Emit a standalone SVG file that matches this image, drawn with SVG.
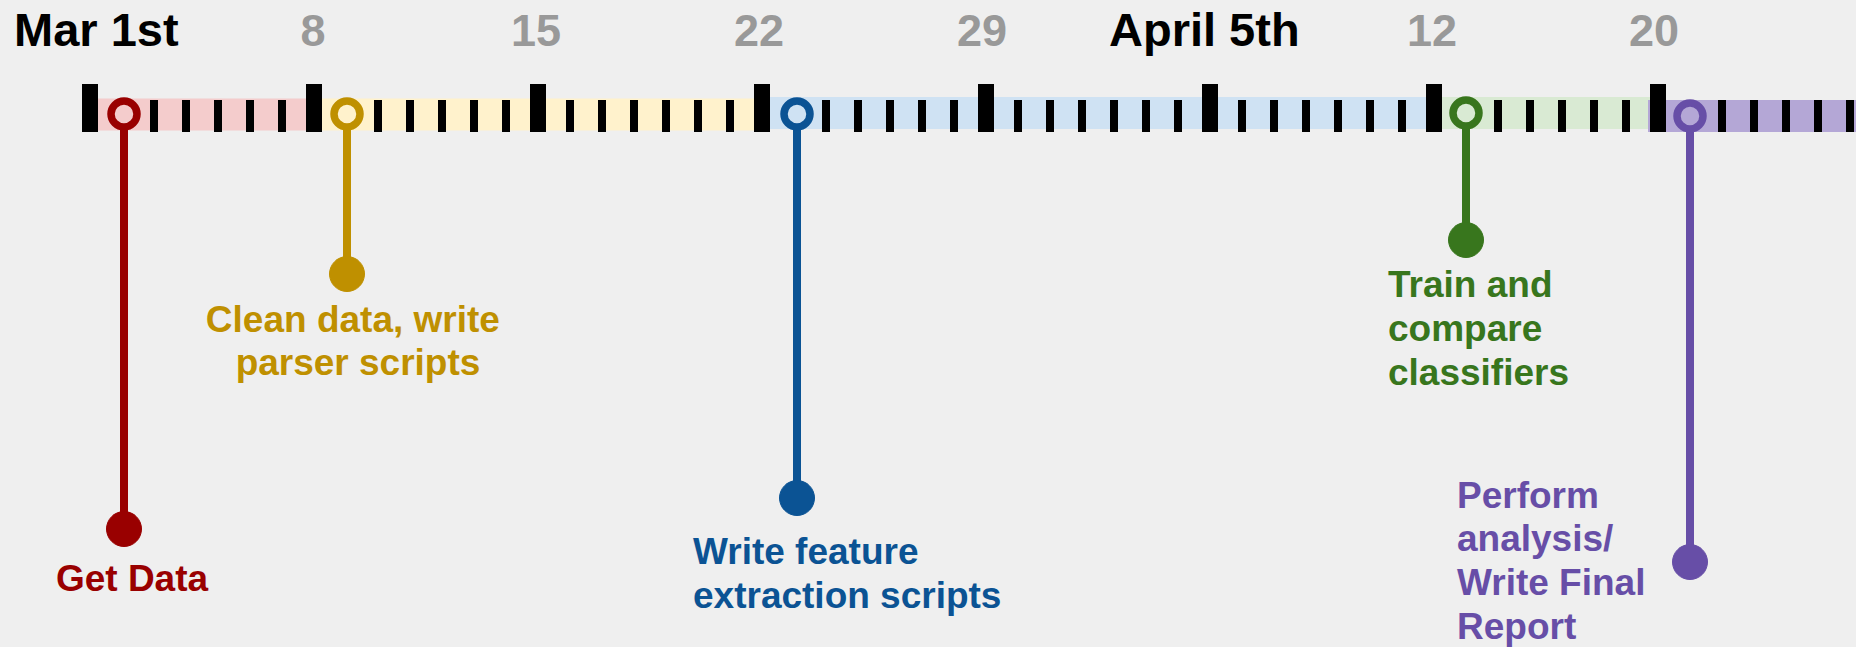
<svg xmlns="http://www.w3.org/2000/svg" xmlns:xlink="http://www.w3.org/1999/xlink" width="1856" height="647" viewBox="0 0 1856 647">
  <style>
    text { font-family: "Liberation Sans", Arial, Helvetica, sans-serif; font-weight: bold; }
    .date { font-size: 47px; fill: #000000; }
    .day { font-size: 45px; fill: #999999; text-anchor: middle; }
    .label { font-size: 37px; }
    .stem { stroke-width: 8; fill: none; }
    .ring { stroke-width: 7.5; }
    .red { fill: #990000; stroke: #990000; }
    .gold { fill: #bf9000; stroke: #bf9000; }
    .blue { fill: #0b5394; stroke: #0b5394; }
    .green { fill: #38761d; stroke: #38761d; }
    .purple { fill: #674ea7; stroke: #674ea7; }
    .ring.red { fill: #f4cccc; }
    .ring.gold { fill: #fff2cc; }
    .ring.blue { fill: #cfe2f3; }
    .ring.green { fill: #d9ead3; }
    .ring.purple { fill: #b4a7d6; }
    text.red, text.gold, text.blue, text.green, text.purple { stroke: none; }
  </style>
  <defs>
    <rect id="tick" y="100" width="8" height="32" fill="#000000"/>
    <rect id="major" y="84" width="16" height="48" fill="#000000"/>
  </defs>

  <!-- page background -->
  <rect x="0" y="0" width="1856" height="647" fill="#efefef"/>

  <!-- date headings -->
  <g id="dates">
    <text class="date" x="14" y="46">Mar 1st</text>
    <text class="day" x="313" y="46">8</text>
    <text class="day" x="536" y="46">15</text>
    <text class="day" x="759" y="46">22</text>
    <text class="day" x="982" y="46">29</text>
    <text class="date" x="1109" y="46">April 5th</text>
    <text class="day" x="1432" y="46">12</text>
    <text class="day" x="1654" y="46">20</text>
  </g>

  <!-- timeline: coloured phase bands with day ticks -->
  <g id="timeline">
    <rect x="90" y="98.5" width="224" height="32" fill="#f4cccc"/>
    <rect x="314" y="98.5" width="448" height="32" fill="#fff2cc"/>
    <rect x="762" y="97" width="672" height="32" fill="#cfe2f3"/>
    <rect x="1434" y="97" width="216" height="32" fill="#d9ead3"/>
    <rect x="1648" y="100" width="208" height="32" fill="#b4a7d6"/>

    <use href="#tick" x="150"/><use href="#tick" x="182"/><use href="#tick" x="214"/><use href="#tick" x="246"/><use href="#tick" x="278"/>
    <use href="#tick" x="374"/><use href="#tick" x="406"/><use href="#tick" x="438"/><use href="#tick" x="470"/><use href="#tick" x="502"/>
    <use href="#tick" x="566"/><use href="#tick" x="598"/><use href="#tick" x="630"/><use href="#tick" x="662"/><use href="#tick" x="694"/><use href="#tick" x="726"/>
    <use href="#tick" x="822"/><use href="#tick" x="854"/><use href="#tick" x="886"/><use href="#tick" x="918"/><use href="#tick" x="950"/>
    <use href="#tick" x="1014"/><use href="#tick" x="1046"/><use href="#tick" x="1078"/><use href="#tick" x="1110"/><use href="#tick" x="1142"/><use href="#tick" x="1174"/>
    <use href="#tick" x="1238"/><use href="#tick" x="1270"/><use href="#tick" x="1302"/><use href="#tick" x="1334"/><use href="#tick" x="1366"/><use href="#tick" x="1398"/>
    <use href="#tick" x="1494"/><use href="#tick" x="1526"/><use href="#tick" x="1558"/><use href="#tick" x="1590"/><use href="#tick" x="1622"/>
    <use href="#tick" x="1718"/><use href="#tick" x="1750"/><use href="#tick" x="1782"/><use href="#tick" x="1814"/><use href="#tick" x="1846"/>

    <use href="#major" x="82"/><use href="#major" x="306"/><use href="#major" x="530"/><use href="#major" x="754"/>
    <use href="#major" x="978"/><use href="#major" x="1202"/><use href="#major" x="1426"/><use href="#major" x="1650"/>
  </g>

  <!-- stems joining each start marker to its task -->
  <g id="connectors">
    <line class="stem red" x1="124" y1="114" x2="124" y2="529"/>
    <line class="stem gold" x1="347" y1="114" x2="347" y2="274"/>
    <line class="stem blue" x1="797" y1="114" x2="797" y2="498"/>
    <line class="stem green" x1="1466" y1="113" x2="1466" y2="240"/>
    <line class="stem purple" x1="1690" y1="116" x2="1690" y2="562"/>
  </g>

  <g id="get-data">
    <circle class="ring red" cx="124" cy="114" r="13"/>
    <circle class="red" cx="124" cy="529" r="17.5"/>
    <text class="label red" x="132" y="591" text-anchor="middle">Get Data</text>
  </g>

  <g id="clean-data">
    <circle class="ring gold" cx="347" cy="114" r="13"/>
    <circle class="gold" cx="347" cy="274" r="17.5"/>
    <text class="label gold" text-anchor="middle">
      <tspan x="358" y="332">Clean data, write</tspan>
      <tspan x="358" y="375">parser scripts</tspan>
    </text>
  </g>

  <g id="feature-extraction">
    <circle class="ring blue" cx="797" cy="114" r="13"/>
    <circle class="blue" cx="797" cy="498" r="17.5"/>
    <text class="label blue">
      <tspan x="693" y="564">Write feature</tspan>
      <tspan x="693" y="608">extraction scripts</tspan>
    </text>
  </g>

  <g id="train-classifiers">
    <circle class="ring green" cx="1466" cy="113" r="13"/>
    <circle class="green" cx="1466" cy="240" r="17.5"/>
    <text class="label green">
      <tspan x="1388" y="297">Train and</tspan>
      <tspan x="1388" y="341">compare</tspan>
      <tspan x="1388" y="385">classifiers</tspan>
    </text>
  </g>

  <g id="final-report">
    <circle class="ring purple" cx="1690" cy="116" r="13"/>
    <circle class="purple" cx="1690" cy="562" r="17.5"/>
    <text class="label purple">
      <tspan x="1457" y="508">Perform</tspan>
      <tspan x="1457" y="551">analysis/</tspan>
      <tspan x="1457" y="595">Write Final</tspan>
      <tspan x="1457" y="639">Report</tspan>
    </text>
  </g>
</svg>
